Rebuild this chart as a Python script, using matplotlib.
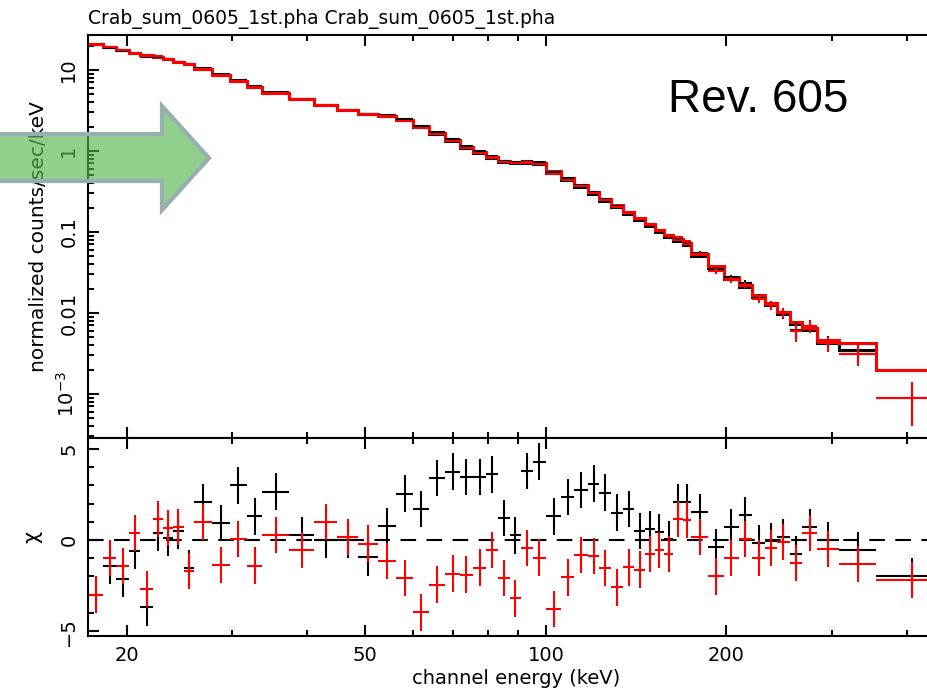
import numpy as np
import matplotlib
matplotlib.use('Agg')
import matplotlib.pyplot as plt
from matplotlib.patches import Polygon
from matplotlib.ticker import FixedLocator, FixedFormatter, NullFormatter, MultipleLocator

# energy bin edges (keV)
edges = [17.3, 18.3, 19.2, 20.2, 21.1, 22.1, 23.0, 23.9, 24.9, 25.9, 27.8, 29.7, 31.7,
         33.7, 37.3, 41.1, 44.9, 48.6, 52.5, 56.3, 60.1, 63.9, 67.9, 71.9, 75.6, 79.5,
         83.2, 87.1, 90.9, 95.2, 100.0, 106.0, 111.4, 117.6, 122.6, 128.4, 134.5, 140.3,
         146.3, 152.0, 157.4, 162.9, 169.3, 174.5, 186.3, 198.1, 209.8, 220.6, 231.9,
         242.8, 255.2, 267.2, 283.1, 308.0, 355.1, 460.8]

# model (counts/sec/keV)
red_model = [20.9, 19.2, 17.7, 16.2, 15.2, 14.5, 13.7, 12.6, 11.9, 10.3, 8.7, 7.3, 6.2,
             5.2, 4.4, 3.7, 3.2, 2.85, 2.72, 2.41, 2.04, 1.67, 1.37, 1.12, 0.97, 0.84,
             0.76, 0.74, 0.73, 0.71, 0.57, 0.46, 0.38, 0.31, 0.255, 0.215, 0.177, 0.149,
             0.125, 0.105, 0.092, 0.082, 0.073, 0.0535, 0.038, 0.0278, 0.0222, 0.0167,
             0.0133, 0.0103, 0.0078, 0.0065, 0.0046, 0.0043, 0.0020]
black_model = [20.9, 19.2, 17.7, 16.2, 15.2, 14.5, 13.7, 12.6, 11.9, 10.3, 8.7, 7.3, 6.2,
               5.2, 4.4, 3.7, 3.2, 2.85, 2.72, 2.41, 1.98, 1.62, 1.33, 1.09, 0.94, 0.815,
               0.737, 0.718, 0.708, 0.689, 0.536, 0.432, 0.357, 0.291, 0.240, 0.202, 0.166,
               0.140, 0.1175, 0.0987, 0.0865, 0.0771, 0.0686, 0.0503, 0.0357, 0.0261,
               0.0209, 0.0157, 0.0125, 0.0097, 0.0073, 0.0061, 0.0043, 0.0035, 0.00195]

# data points
red_data = [20.3, 19.0, 17.4, 16.3, 14.8, 14.7, 13.8, 12.7, 11.7, 10.4, 8.56, 7.30, 6.10,
            5.22, 4.37, 3.74, 3.21, 2.84, 2.68, 2.35, 1.92, 1.61, 1.33, 1.09, 0.947, 0.833,
            0.737, 0.705, 0.725, 0.699, 0.517, 0.436, 0.372, 0.303, 0.245, 0.201, 0.170,
            0.143, 0.123, 0.104, 0.089, 0.086, 0.077, 0.054, 0.033, 0.0256, 0.0223, 0.0149,
            0.0126, 0.0101, 0.0059, 0.0069, 0.0042, 0.0031, 0.0009]
black_data = [20.3, 18.9, 17.3, 16.1, 14.6, 14.6, 13.7, 12.7, 11.7, 10.5, 8.8, 7.56, 6.3,
              5.36, 4.41, 3.7, 3.2, 2.82, 2.75, 2.48, 2.03, 1.70, 1.41, 1.146, 0.989, 0.858,
              0.750, 0.721, 0.750, 0.732, 0.553, 0.458, 0.382, 0.314, 0.256, 0.2095, 0.173,
              0.142, 0.119, 0.0998, 0.0867, 0.084, 0.075, 0.0546, 0.0347, 0.0275, 0.0235,
              0.0155, 0.0124, 0.0099, 0.0062, 0.0069, 0.0043, 0.0031, 0.0009]
flux_err = [0.21, 0.19, 0.18, 0.16, 0.15, 0.145, 0.137, 0.126, 0.12, 0.10, 0.10, 0.088,
            0.074, 0.062, 0.053, 0.044, 0.038, 0.034, 0.033, 0.029, 0.031, 0.025, 0.021,
            0.017, 0.015, 0.013, 0.011, 0.011, 0.011, 0.011, 0.014, 0.0115, 0.0095, 0.0078,
            0.0064, 0.0054, 0.0044, 0.0037, 0.0031, 0.0026, 0.004, 0.0035, 0.0033, 0.003,
            0.0025, 0.0022, 0.002, 0.0018, 0.0016, 0.0014, 0.0015, 0.0012, 0.0009, 0.0009,
            0.0005]

# residuals (chi)
black_chi = [-3.0, -1.43, -2.15, -0.6, -3.7, 0.38, 0.1, 0.5, -1.55, 2.1, 0.93, 3.0, 1.3,
             2.65, 0.27, 0.0, 0.0, -0.95, 0.77, 2.55, 1.7, 3.4, 3.75, 3.47, 3.47, 3.6, 1.2,
             0.25, 3.8, 4.3, 1.3, 2.37, 2.75, 3.1, 2.6, 1.5, 1.7, 0.5, 0.6, 0.45, 0.05,
             2.1, 2.1, 1.55, -0.4, 0.7, 1.37, -0.15, -0.05, 0.17, -0.77, 0.7, 0.0, -0.55,
             -2.0]
red_chi = [-3.0, -1.0, -1.43, 0.38, -2.7, 1.15, 0.65, 0.7, -1.7, 1.0, -1.37, 0.05, -1.4,
           0.27, -0.55, 1.0, 0.15, -0.2, -1.15, -2.1, -3.97, -2.45, -1.85, -1.9, -1.52,
           -0.55, -2.1, -3.2, -0.45, -0.97, -3.8, -2.05, -0.82, -0.88, -1.55, -2.6, -1.5,
           -1.62, -0.77, -0.55, -0.77, 1.15, 1.1, 0.15, -2.0, -1.0, 0.05, -1.0, -0.45,
           -0.12, -1.25, 0.37, -0.5, -1.32, -2.2]

e = np.array(edges)
centers = (e[:-1] + e[1:]) / 2
half = (e[1:] - e[:-1]) / 2

fig = plt.figure(figsize=(9.27, 6.92), dpi=100)
ax1 = fig.add_axes([0.0949, 0.3671, 0.9234, 0.5823])
ax2 = fig.add_axes([0.0949, 0.0809, 0.9234, 0.2862], sharex=ax1)

# top panel: data crosses + model steps
ax1.errorbar(centers, black_data, xerr=half, yerr=flux_err, fmt='none', ecolor='black', elinewidth=1.5)
ax1.stairs(black_model, edges, color='black', lw=2.2, baseline=None)
ax1.errorbar(centers, red_data, xerr=half, yerr=flux_err, fmt='none', ecolor='red', elinewidth=1.5)
ax1.stairs(red_model, edges, color='red', lw=2.2, baseline=None)
ax1.set_xscale('log')
ax1.set_yscale('log')
ax1.set_xlim(17.25, 461)
ax1.set_ylim(2.86e-4, 27.0)
ax1.yaxis.set_major_locator(FixedLocator([1e-3, 0.01, 0.1, 1, 10]))
ax1.yaxis.set_major_formatter(FixedFormatter([r'$10^{-3}$', '0.01', '0.1', '1', '10']))
ax1.set_ylabel('normalized counts/sec/keV', fontsize=14.5, labelpad=6)
ax1.tick_params(axis='x', labelbottom=False)

# bottom panel: residuals
ax2.axhline(0, color='black', lw=1.5, dashes=(7.5, 5))
ax2.errorbar(centers, black_chi, xerr=half, yerr=1, fmt='none', ecolor='black', elinewidth=1.5)
ax2.errorbar(centers, red_chi, xerr=half, yerr=1, fmt='none', ecolor='red', elinewidth=1.5)
ax2.set_ylim(-5.27, 5.6)
ax2.yaxis.set_major_locator(FixedLocator([-5, 0, 5]))
ax2.yaxis.set_major_formatter(FixedFormatter(['\u22125', '0', '5']))
ax2.yaxis.set_minor_locator(MultipleLocator(1))
ax2.set_ylabel('\u03c7', fontsize=15, labelpad=12)
ax2.set_xlabel('channel energy (keV)', fontsize=14, labelpad=3)

ax2.xaxis.set_major_locator(FixedLocator([20, 50, 100, 200]))
ax2.xaxis.set_major_formatter(FixedFormatter(['20', '50', '100', '200']))
ax2.xaxis.set_minor_locator(FixedLocator([30, 40, 60, 70, 80, 90, 300, 400]))
ax2.xaxis.set_minor_formatter(NullFormatter())

for ax in (ax1, ax2):
    ax.tick_params(which='both', direction='in', top=True, right=True, width=1.5, labelsize=14)
    ax.tick_params(which='major', length=8, pad=7)
    ax.tick_params(which='minor', length=4)
    for lab in ax.get_yticklabels():
        lab.set_rotation(90)
        lab.set_va('center')
    for s in ax.spines.values():
        s.set_linewidth(1.5)

fig.text(0.0949, 0.972, 'Crab_sum_0605_1st.pha Crab_sum_0605_1st.pha', fontsize=13.5, va='center')
fig.text(668 / 927, 1 - 112 / 692, 'Rev. 605', fontsize=33, va='baseline', family='Liberation Sans')

# green arrow overlay
pts = [(-10, 134), (162, 134), (162, 106), (209, 158), (162, 210), (162, 181), (-10, 181)]
pts = [(x / 927, 1 - y / 692) for x, y in pts]
arrow = Polygon(pts, closed=True, transform=fig.transFigure, facecolor=(0.34, 0.72, 0.31, 0.65),
                edgecolor='#98aeb0', lw=3, clip_on=False, zorder=10)
fig.add_artist(arrow)

fig.savefig('out.png', dpi=100)
